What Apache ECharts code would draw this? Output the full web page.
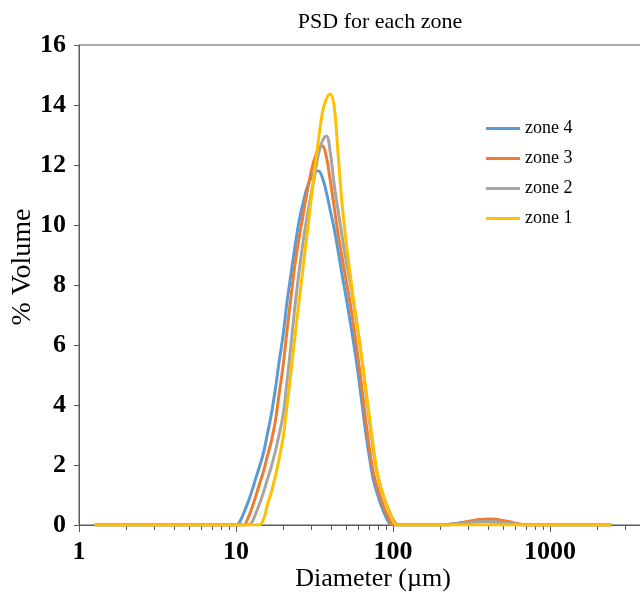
<!DOCTYPE html>
<html><head><meta charset="utf-8">
<script src="https://cdn.jsdelivr.net/npm/echarts@6/dist/echarts.min.js"></script>
<style>html,body{margin:0;padding:0;background:#fff}#c{width:640px;height:595px}</style>
</head><body><div id="c"></div>
<script>
// Diameter bins (µm)
const diameters = [1.26, 7.94, 8.91,
  10.0, 10.6, 11.2, 11.9, 12.6, 13.3, 14.1, 15.0, 15.8, 16.8,
  17.8, 18.8, 20.0, 21.1, 22.4, 23.7, 25.1, 26.6, 28.2, 29.9,
  31.6, 33.5, 35.5, 37.6, 39.8, 42.2, 44.7, 47.3, 50.1, 53.1,
  56.2, 59.6, 63.1, 66.8, 70.8, 75.0, 79.4, 84.1, 89.1, 94.4,
  100, 106, 112,
  126, 141, 158, 178, 200, 224, 251, 282, 316, 355, 398, 447, 501, 562, 631, 708, 794, 891,
  2450];
// % Volume per zone (same order as diameters)
const zone4 = [0, 0, 0,
  0, 0.12, 0.4, 0.74, 1.12, 1.52, 1.94, 2.43, 3.0, 3.7,
  4.52, 5.42, 6.37, 7.4, 8.37, 9.25, 10.07, 10.68, 11.2, 11.55,
  11.76, 11.8, 11.58, 11.1, 10.5, 9.88, 9.13, 8.37, 7.63, 6.85,
  6.05, 5.15, 4.15, 3.15, 2.25, 1.5, 1.05, 0.65, 0.33, 0.08,
  0, 0, 0,
  0, 0, 0, 0, 0, 0.02, 0.05, 0.08, 0.10, 0.11, 0.11, 0.10, 0.07, 0.04, 0.01, 0, 0, 0,
  0];
const zone3 = [0, 0, 0,
  0, 0, 0, 0.22, 0.55, 0.93, 1.36, 1.8, 2.27, 2.8,
  3.45, 4.35, 5.35, 6.45, 7.6, 8.65, 9.5, 10.25, 11.03, 11.7,
  12.2, 12.52, 12.63, 12.28, 11.5, 10.6, 9.7, 8.95, 8.2, 7.45,
  6.6, 5.65, 4.65, 3.55, 2.55, 1.75, 1.25, 0.85, 0.48, 0.2,
  0, 0, 0,
  0, 0, 0, 0, 0, 0, 0.04, 0.09, 0.14, 0.18, 0.20, 0.19, 0.15, 0.10, 0.04, 0, 0, 0,
  0];
const zone2 = [0, 0, 0,
  0, 0, 0, 0, 0.08, 0.36, 0.7, 1.1, 1.5, 1.95,
  2.45, 3.0, 3.7, 4.75, 6.0, 7.25, 8.35, 9.35, 10.2, 10.95,
  11.6, 12.35, 12.8, 12.97, 12.45, 11.35, 10.48, 9.65, 8.85, 8.15,
  7.35, 6.5, 5.6, 4.55, 3.45, 2.45, 1.7, 1.2, 0.8, 0.47,
  0.2, 0.02, 0,
  0, 0, 0, 0, 0, 0, 0.03, 0.06, 0.09, 0.11, 0.12, 0.11, 0.08, 0.05, 0.02, 0, 0, 0,
  0];
const zone1 = [0, 0, 0,
  0, 0, 0, 0, 0, 0, 0, 0.2, 0.64, 1.1,
  1.62, 2.2, 2.95, 3.95, 5.1, 6.25, 7.37, 8.48, 9.6, 10.72,
  11.78, 12.82, 13.75, 14.2, 14.37, 13.95, 12.35, 10.75, 9.5, 8.45,
  7.47, 6.55, 5.6, 4.62, 3.6, 2.6, 1.76, 1.22, 0.82, 0.47,
  0.18, 0, 0,
  0, 0, 0, 0, 0, 0, 0, 0, 0, 0, 0, 0, 0, 0, 0, 0, 0, 0,
  0];
const seriesNames = ['zone 4', 'zone 3', 'zone 2', 'zone 1'];
const seriesValues = [zone4, zone3, zone2, zone1];
const seriesColors = ['#5B9BD5', '#ED7D31', '#A5A5A5', '#FFC000'];
// minor tick positions on the log axis
const minorTicks = [2, 3, 4, 5, 6, 7, 8, 9, 20, 30, 40, 50, 60, 70, 80, 90, 200, 300, 400, 500, 600, 700, 800, 900, 2000, 3000, 4000, 5000, 6000, 7000, 8000, 9000];
const yMin = 0, yMax = 16, yInterval = 2;

const FONT = 'Liberation Serif';
const AX = '#595959';
const chart = echarts.init(document.getElementById('c'), null, {renderer: 'canvas'});
const lineSeries = seriesNames.map((name, i) => ({
  name: name,
  type: 'line',
  data: diameters.map((d, j) => [d, seriesValues[i][j]]),
  symbol: 'none',
  smooth: 0.4,
  lineStyle: {width: 3, color: seriesColors[i]},
  itemStyle: {color: seriesColors[i]},
  emphasis: {disabled: true},
  z: 3 + i
}));
chart.setOption({
  animation: false,
  title: {
    text: 'PSD for each zone', left: 375, top: 6, textAlign: 'center',
    textStyle: {fontFamily: FONT, fontSize: 22, fontWeight: 'normal', color: '#000'}
  },
  legend: {
    data: seriesNames, orient: 'vertical', left: 486, top: 119,
    icon: 'rect', itemWidth: 34, itemHeight: 3, itemGap: 11, padding: 0,
    textStyle: {fontFamily: FONT, fontSize: 18, color: '#000', lineHeight: 19}
  },
  grid: {left: 79, right: -67, top: 45, bottom: 70, show: true, borderColor: AX, borderWidth: 1, containLabel: false, outerBoundsMode: 'none'},
  xAxis: {
    type: 'log', logBase: 10, min: 1, max: 10000,
    name: 'Diameter (µm)', nameLocation: 'middle', nameGap: 41, nameMoveOverlap: false,
    nameTextStyle: {fontFamily: FONT, fontSize: 26, color: '#000', padding: [0, 40, 0, 0]},
    axisLine: {show: true, lineStyle: {color: AX, width: 1}},
    axisTick: {show: true, inside: false, length: 7, lineStyle: {color: AX}},
    splitLine: {show: false},
    axisLabel: {fontFamily: FONT, fontSize: 26, fontWeight: 'bold', color: '#000', margin: 14,
      formatter: v => String(Math.round(v))}
  },
  yAxis: {
    type: 'value', min: yMin, max: yMax, interval: yInterval,
    name: '% Volume', nameLocation: 'middle', nameGap: 42, nameRotate: 90, nameMoveOverlap: false,
    nameTextStyle: {fontFamily: FONT, fontSize: 28, color: '#000', padding: [0, 0, 0, 36]},
    axisLine: {show: true, lineStyle: {color: AX, width: 1}},
    axisTick: {show: true, inside: false, length: 5, lineStyle: {color: AX}},
    splitLine: {show: false},
    axisLabel: {fontFamily: FONT, fontSize: 26, fontWeight: 'bold', color: '#000', margin: 13}
  },
  series: [{
    type: 'custom', coordinateSystem: 'cartesian2d', silent: true, clip: false, z: 1,
    data: minorTicks.map(v => [v, 0]),
    renderItem: (params, api) => {
      const p = api.coord([api.value(0), api.value(1)]);
      const x = Math.round(p[0]) + 0.5;
      return {type: 'line', shape: {x1: x, y1: p[1], x2: x, y2: p[1] + 5}, style: {stroke: AX, lineWidth: 1}};
    }
  }].concat(lineSeries)
});
</script></body></html>
